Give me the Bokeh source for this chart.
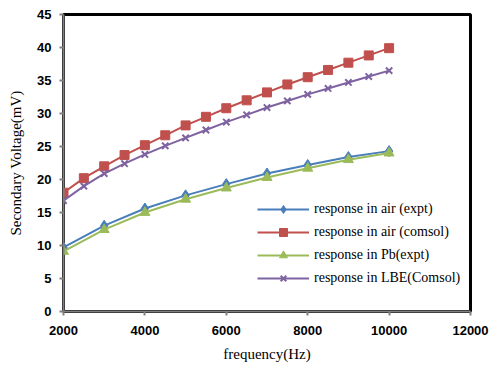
from bokeh.plotting import figure
from bokeh.models import Range1d, FixedTicker, Legend, LegendItem
from bokeh.embed import file_html
from bokeh.resources import INLINE

freq_full = [2000, 2500, 3000, 3500, 4000, 4500, 5000, 5500, 6000, 6500, 7000, 7500, 8000, 8500, 9000, 9500, 10000]
freq_expt = [2000, 3000, 4000, 5000, 6000, 7000, 8000, 9000, 10000]

air_expt = [9.7, 13.0, 15.6, 17.6, 19.3, 20.9, 22.2, 23.4, 24.3]
air_comsol = [18.0, 20.2, 22.0, 23.7, 25.2, 26.7, 28.2, 29.5, 30.8, 32.0, 33.2, 34.4, 35.5, 36.6, 37.7, 38.8, 39.9]
pb_expt = [9.1, 12.4, 15.0, 17.0, 18.7, 20.3, 21.7, 23.0, 24.0]
lbe_comsol = [16.8, 19.0, 20.9, 22.4, 23.8, 25.1, 26.3, 27.5, 28.7, 29.8, 30.9, 31.9, 32.9, 33.8, 34.7, 35.6, 36.5]

labels = ["response in air (expt)", "response in air (comsol)", "response in Pb(expt)", "response in LBE(Comsol)"]
colors = ["#4A7EBB", "#C0504D", "#9BBB59", "#7F63A1"]

p = figure(width=490, height=367, output_backend="svg", toolbar_location=None,
           x_range=Range1d(2000, 12000), y_range=Range1d(0, 45),
           min_border_left=63, min_border_right=20, min_border_top=14, min_border_bottom=56)

p.grid.visible = False
p.outline_line_color = "black"
p.outline_line_width = 3
p.background_fill_color = "white"
p.border_fill_color = "white"

p.xaxis.ticker = FixedTicker(ticks=[2000, 4000, 6000, 8000, 10000, 12000])
p.yaxis.ticker = FixedTicker(ticks=list(range(0, 50, 5)))
for ax in (p.xaxis[0], p.yaxis[0]):
    ax.axis_line_color = "#808080"
    ax.axis_line_width = 2
    ax.major_tick_line_color = "#808080"
    ax.major_tick_line_width = 2
    ax.major_tick_in = 0
    ax.major_tick_out = 4
    ax.minor_tick_line_color = None
    ax.major_label_text_font = "Liberation Sans"
    ax.major_label_text_font_style = "bold"
    ax.major_label_text_font_size = "13px"
    ax.major_label_text_color = "black"
    ax.axis_label_text_font = "Liberation Serif"
    ax.axis_label_text_font_style = "normal"
    ax.axis_label_text_font_size = "15px"
    ax.axis_label_text_color = "black"
p.xaxis.major_label_standoff = 10
p.yaxis.major_label_standoff = 8
p.xaxis.axis_label = "frequency(Hz)"
p.yaxis.axis_label = "Secondary Voltage(mV)"
p.xaxis.axis_label_standoff = 8
p.yaxis.axis_label_standoff = 10

r1l = p.line(freq_expt, air_expt, line_color=colors[0], line_width=2)
r1m = p.scatter(freq_expt, air_expt, marker="diamond", size=11, fill_color=colors[0], line_color=colors[0])
r2l = p.line(freq_full, air_comsol, line_color=colors[1], line_width=2)
r2m = p.scatter(freq_full, air_comsol, marker="square", size=9, fill_color=colors[1], line_color=colors[1])
r3l = p.line(freq_expt, pb_expt, line_color=colors[2], line_width=2)
r3m = p.scatter(freq_expt, pb_expt, marker="triangle", size=10, fill_color=colors[2], line_color=colors[2])
r4l = p.line(freq_full, lbe_comsol, line_color=colors[3], line_width=2)
r4m = p.scatter(freq_full, lbe_comsol, marker="x", size=9, line_color=colors[3], line_width=2)

legend = Legend(items=[
    LegendItem(label=labels[0], renderers=[r1l, r1m]),
    LegendItem(label=labels[1], renderers=[r2l, r2m]),
    LegendItem(label=labels[2], renderers=[r3l, r3m]),
    LegendItem(label=labels[3], renderers=[r4l, r4m]),
], location=(194, 23))
legend.border_line_color = None
legend.background_fill_alpha = 0
legend.label_text_font = "Liberation Serif"
legend.label_text_font_size = "14px"
legend.label_text_color = "black"
legend.glyph_width = 52
legend.glyph_height = 20
legend.label_height = 20
legend.spacing = 3
legend.label_standoff = 5
legend.padding = 8
legend.margin = 0
p.add_layout(legend)

open("out.html", "w").write(file_html(p, INLINE))
